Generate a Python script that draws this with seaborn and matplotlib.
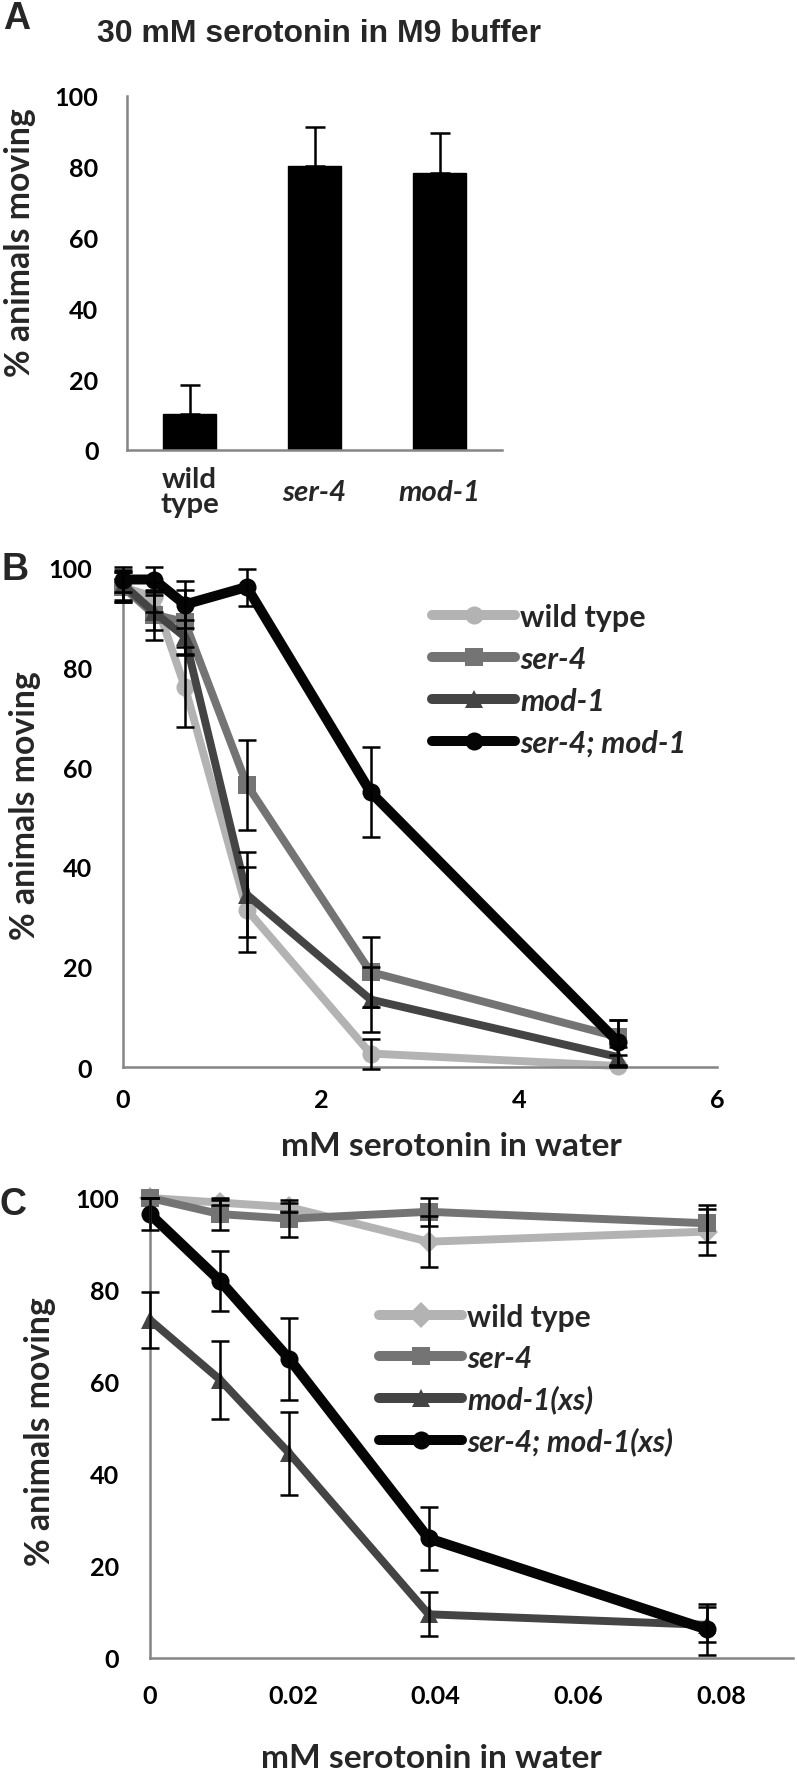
import matplotlib
matplotlib.use("Agg")
import matplotlib.pyplot as plt
import seaborn as sns
import pandas as pd
import numpy as np

# ---------------- data ----------------
# Panel A
a_categories = ["wild\ntype", "ser-4", "mod-1"]
a_values = [10.2, 80.2, 78.3]
a_errors = [8.3, 11.0, 11.3]

# Panel B
b_conc = [0, 0.3125, 0.625, 1.25, 2.5, 5]
b_strains = ["wild type", "ser-4", "mod-1", "ser-4; mod-1"]
b_wt = [96, 94, 76, 31.5, 2.7, 0.2]
b_wt_err = [3, 3, 8, 8.5, 3, 0]
b_ser4 = [96, 90.5, 89, 56.5, 19, 6]
b_ser4_err = [3, 5, 6.4, 9, 7, 3.5]
b_mod1 = [96.5, 91, 86, 34.5, 13.5, 2]
b_mod1_err = [3, 3.5, 3.5, 8.5, 6.5, 2]
b_double = [97.5, 97.5, 92.5, 96, 55, 5]
b_double_err = [2.5, 2.5, 4.7, 3.7, 9, 4.5]

# Panel C
c_conc = [0, 0.0098, 0.0195, 0.039, 0.078]
c_strains = ["wild type", "ser-4", "mod-1(xs)", "ser-4; mod-1(xs)"]
c_wt = [100, 99, 98, 90.5, 92.7]
c_wt_err = [0, 0.5, 1, 5.5, 5]
c_ser4 = [100, 96.5, 95.5, 97, 94.5]
c_ser4_err = [0, 3.5, 4, 3, 4]
c_mod1 = [73.5, 60.5, 44.5, 9.5, 7.2]
c_mod1_err = [6, 8.5, 9, 4.8, 3.8]
c_double = [96.5, 82, 65, 26, 6.2]
c_double_err = [3.5, 6.5, 9, 6.8, 5.5]

# ---------------- style ----------------
sns.set_theme(style="white")
FONT = ["Lato", "DejaVu Sans"]
ARIAL = ["Liberation Sans", "DejaVu Sans"]
plt.rcParams["font.family"] = FONT
plt.rcParams["font.weight"] = "bold"

W, H = 797, 1774
DPI = 100
fig = plt.figure(figsize=(W / DPI, H / DPI), dpi=DPI)
renderer = fig.canvas.get_renderer()


def size_for(s, target_px, style="normal", family=FONT):
    t = fig.text(0, 0, s, fontsize=20, fontweight="bold", fontstyle=style, family=family)
    w = t.get_window_extent(renderer).width
    t.remove()
    return 20.0 * target_px / w


def height_px(s, fs, style="normal", family=FONT):
    t = fig.text(0, 0, s, fontsize=fs, fontweight="bold", fontstyle=style, family=family)
    h = t.get_window_extent(renderer).height
    t.remove()
    return h


TICK_FS = size_for("100", 44)
LABEL_FS = size_for("% animals moving", 268)
XLAB_FS = size_for("mM serotonin in water", 340)
CAT_FS = size_for("mod-1", 82, style="italic")
LEGB_FS = size_for("ser-4; mod-1", 166, style="italic")
LEGC_FS = size_for("wild type", 124)
TITLE_FS = size_for("30 mM serotonin in M9 buffer", 445, family=ARIAL)
LETTER_FS = 27

SPINE = "#858585"
colors4 = ["#b3b3b3", "#747474", "#444444", "#050505"]


def px_axes(left, right, top, bottom):
    return fig.add_axes([left / W, 1 - bottom / H, (right - left) / W, (bottom - top) / H])


def style_axes(ax):
    for s in ["top", "right"]:
        ax.spines[s].set_visible(False)
    for s in ["left", "bottom"]:
        ax.spines[s].set_color(SPINE)
        ax.spines[s].set_linewidth(1.8)
    ax.tick_params(axis="both", which="major", direction="out", length=7, width=1.8,
                   color=SPINE, labelsize=TICK_FS, labelcolor="black")
    for lab in ax.get_yticklabels() + ax.get_xticklabels():
        lab.set_fontweight("bold")


# ---------------- Panel A ----------------
axA = px_axes(127, 502, 97, 451)
dfA = pd.DataFrame({"strain": a_categories, "pct": a_values})
sns.barplot(data=dfA, x="strain", y="pct", color="black", width=0.42,
            errorbar=None, ax=axA, saturation=1)
for p in axA.patches:
    p.set_edgecolor("black")
xA = np.arange(len(a_categories))
axA.errorbar(xA, a_values, yerr=[np.zeros(len(a_values)), a_errors], fmt="none",
             ecolor="black", elinewidth=1.8, capsize=7.2, capthick=1.8, zorder=1)
axA.set_xlim(-0.5, 2.5)
axA.set_ylim(0, 100)
axA.set_yticks([0, 20, 40, 60, 80, 100])
axA.set_xticks([-0.5, 0.5, 1.5, 2.5])
axA.set_xticklabels([])
axA.set_xticks(xA, minor=True)
axA.set_xticklabels(a_categories, minor=True)
axA.set_xlabel("")
axA.set_ylabel("")
style_axes(axA)
axA.tick_params(axis="x", which="minor", length=0, pad=30, labelsize=CAT_FS)
axA.tick_params(axis="y", pad=13.5)
for lab in axA.get_xticklabels(minor=True):
    lab.set_fontweight("bold")
    lab.set_linespacing(0.95)
    lab.set_verticalalignment("center")
    if lab.get_text() != "wild\ntype":
        lab.set_fontstyle("italic")

fig.text(17 / W, 1 - 19 / H, "A", fontsize=LETTER_FS, fontweight="bold",
         family=ARIAL, ha="center", va="center")
fig.text(97 / W, 1 - 34 / H, "30 mM serotonin in M9 buffer", fontsize=TITLE_FS,
         fontweight="bold", family=ARIAL, ha="left", va="center")
fig.text(20 / W, 1 - 243 / H, "% animals moving", rotation=90, fontsize=LABEL_FS,
         fontweight="bold", ha="center", va="center")


# ---------------- line panels ----------------
def line_panel(ax, conc, strains, series, errs, markers, widths):
    rows = []
    for s, vals in zip(strains, series):
        for x, v in zip(conc, vals):
            rows.append({"conc": x, "pct": v, "strain": s})
    df = pd.DataFrame(rows)
    sns.lineplot(data=df, x="conc", y="pct", hue="strain", hue_order=strains,
                 style="strain", style_order=strains, size="strain", size_order=strains,
                 sizes=dict(zip(strains, widths)), palette=dict(zip(strains, colors4)),
                 markers=dict(zip(strains, markers)), dashes=False, markersize=13,
                 markeredgewidth=0, errorbar=None, legend=False, ax=ax, clip_on=False,
                 sort=False)
    handles = list(ax.lines[:len(strains)])
    for vals, e in zip(series, errs):
        ax.errorbar(conc, vals, yerr=e, fmt="none", ecolor="black", elinewidth=1.8,
                    capsize=6.5, capthick=1.8, zorder=3, clip_on=False)
    ax.set_xlabel("")
    ax.set_ylabel("")
    return handles


def add_legend(ax, handles, labels, fs, line_left_px, first_row_px, ax_left, ax_bottom,
               ax_w, ax_h, pitch=42, line_len=83, gap=5):
    fs_px = fs * DPI / 72.0
    h = height_px(labels[-1], fs, style="italic")
    labelspacing = max((pitch - h) / fs_px, 0)
    top_px = first_row_px - h / 2.0
    anchor = ((line_left_px - ax_left) / ax_w, (ax_bottom - top_px) / ax_h)
    leg = ax.legend(handles, labels, loc="upper left", bbox_to_anchor=anchor, frameon=False,
                    fontsize=fs, handlelength=line_len / fs_px, handletextpad=gap / fs_px,
                    labelspacing=labelspacing, borderpad=0, borderaxespad=0, numpoints=1)
    for t in leg.get_texts():
        t.set_fontweight("bold")
        if t.get_text() != "wild type":
            t.set_fontstyle("italic")
    for lh in leg.legend_handles:
        lh.set_linewidth(7.2)
        lh.set_markersize(13)
    return leg


# Panel B
axB = px_axes(123, 717, 568, 1068)
hB = line_panel(axB, b_conc, b_strains, [b_wt, b_ser4, b_mod1, b_double],
                [b_wt_err, b_ser4_err, b_mod1_err, b_double_err],
                ["o", "s", "^", "o"], [5.7, 5.7, 5.7, 7.2])
axB.set_xlim(0, 6)
axB.set_ylim(0, 100)
axB.set_xticks([0, 2, 4, 6])
axB.set_yticks([0, 20, 40, 60, 80, 100])
style_axes(axB)
axB.tick_params(axis="y", pad=15.5)
axB.tick_params(axis="x", pad=8)
add_legend(axB, hB, b_strains, LEGB_FS, 432, 618, 123, 1068, 594, 500)
fig.text(15 / W, 1 - 570 / H, "B", fontsize=LETTER_FS, fontweight="bold",
         family=ARIAL, ha="center", va="center")
fig.text(25 / W, 1 - 806 / H, "% animals moving", rotation=90, fontsize=LABEL_FS,
         fontweight="bold", ha="center", va="center")
fig.text(451 / W, 1 - 1146 / H, "mM serotonin in water", fontsize=XLAB_FS,
         fontweight="bold", ha="center", va="center")

# Panel C
axC = px_axes(150, 793, 1199, 1659)
hC = line_panel(axC, c_conc, c_strains, [c_wt, c_ser4, c_mod1, c_double],
                [c_wt_err, c_ser4_err, c_mod1_err, c_double_err],
                ["D", "s", "^", "o"], [5.7, 5.7, 5.7, 7.4])
axC.set_xlim(0, 0.09)
axC.set_ylim(0, 100)
axC.set_xticks([0, 0.02, 0.04, 0.06, 0.08])
axC.set_xticklabels(["0", "0.02", "0.04", "0.06", "0.08"])
axC.set_yticks([0, 20, 40, 60, 80, 100])
style_axes(axC)
axC.tick_params(axis="y", pad=15)
axC.tick_params(axis="x", pad=12)
hC[0].set_markersize(11.5)
add_legend(axC, hC, c_strains, LEGC_FS, 379, 1318, 150, 1659, 643, 460)
fig.text(13 / W, 1 - 1205 / H, "C", fontsize=LETTER_FS, fontweight="bold",
         family=ARIAL, ha="center", va="center")
fig.text(40 / W, 1 - 1432 / H, "% animals moving", rotation=90, fontsize=LABEL_FS,
         fontweight="bold", ha="center", va="center")
fig.text(431 / W, 1 - 1759 / H, "mM serotonin in water", fontsize=XLAB_FS,
         fontweight="bold", ha="center", va="center")

fig.savefig("out.png", dpi=DPI, facecolor="white")
